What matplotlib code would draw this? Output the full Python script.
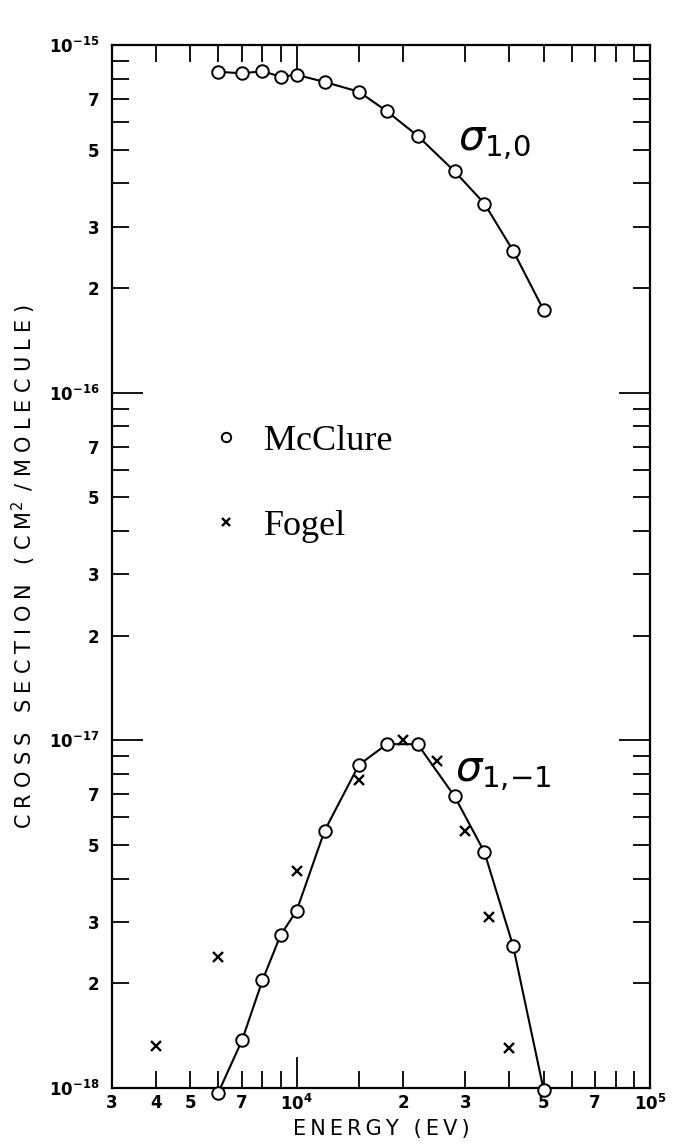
import matplotlib
matplotlib.use("Agg")
import matplotlib.pyplot as plt
from matplotlib.ticker import FixedLocator, FixedFormatter

# energies (eV) of the McClure points
energy = [6e3, 7e3, 8e3, 9e3, 1e4, 1.2e4, 1.5e4, 1.8e4, 2.2e4, 2.8e4, 3.4e4, 4.1e4, 5e4]
# sigma(1,0), units of 1e-16 cm^2
sig10 = [8.38, 8.29, 8.41, 8.11, 8.21, 7.83, 7.34, 6.45, 5.48, 4.33, 3.50, 2.56, 1.73]
# sigma(1,-1), units of 1e-18 cm^2
sig11 = [0.97, 1.37, 2.04, 2.75, 3.24, 5.5, 8.5, 9.75, 9.75, 6.9, 4.77, 2.56, 0.99]

# Fogel points for sigma(1,-1)
fogel_e = [4e3, 6e3, 1e4, 1.5e4, 2e4, 2.5e4, 3e4, 3.5e4, 4e4]
fogel_s = [1.32, 2.38, 4.2, 7.7, 10.0, 8.7, 5.5, 3.1, 1.3]  # 1e-18

xticks_minor = [4e3, 5e3, 6e3, 7e3, 8e3, 9e3, 1.5e4, 2e4, 3e4, 4e4, 5e4, 6e4, 7e4, 8e4, 9e4]
xlabels_minor = ['4', '5', '', '7', '', '', '', '2', '3', '', '5', '', '7', '', '']
xticks_major = [3e3, 1e4, 1e5]
xlabels_major = ['3', r'$\mathbf{10^4}$', r'$\mathbf{10^5}$']

decades = [1e-18, 1e-17, 1e-16, 1e-15]
decade_labels = [r'$\mathbf{10^{-18}}$', r'$\mathbf{10^{-17}}$',
                 r'$\mathbf{10^{-16}}$', r'$\mathbf{10^{-15}}$']


def spaced(s, sep='\u2009\u200a'):
    return sep.join(s)


fig = plt.figure(figsize=(6.87, 11.46), dpi=100)
ax = fig.add_axes([0.163, 0.0506, 0.783, 0.9101])

s10 = [v * 1e-16 for v in sig10]
s11 = [v * 1e-18 for v in sig11]
sf = [v * 1e-18 for v in fogel_s]

ax.plot(energy, s10, color='black', lw=1.5)
ax.plot(energy, s11, color='black', lw=1.5)
ax.plot(energy, s10, ls='none', marker='o', ms=9, mfc='white', mec='black',
        mew=1.4, clip_on=False, zorder=3, label='McClure')
ax.plot(energy, s11, ls='none', marker='o', ms=9, mfc='white', mec='black',
        mew=1.4, clip_on=False, zorder=3)
ax.plot(fogel_e, sf, ls='none', marker='x', ms=7, mec='black', mew=1.7,
        zorder=4, label='Fogel')

ax.set_xscale('log')
ax.set_yscale('log')
ax.set_xlim(3e3, 1e5)
ax.set_ylim(1e-18, 1e-15)

ax.xaxis.set_major_locator(FixedLocator(xticks_major))
ax.xaxis.set_major_formatter(FixedFormatter(xlabels_major))
ax.xaxis.set_minor_locator(FixedLocator(xticks_minor))
ax.xaxis.set_minor_formatter(FixedFormatter(xlabels_minor))

yminor = []
ylab_minor = []
for d in decades[:-1]:
    for m in range(2, 10):
        yminor.append(m * d)
        ylab_minor.append(str(m) if m in (2, 3, 5, 7) else '')
ax.yaxis.set_major_locator(FixedLocator(decades))
ax.yaxis.set_major_formatter(FixedFormatter(decade_labels))
ax.yaxis.set_minor_locator(FixedLocator(yminor))
ax.yaxis.set_minor_formatter(FixedFormatter(ylab_minor))

for which, ln in (('major', 22), ('minor', 12)):
    ax.tick_params(axis='both', which=which, direction='in', length=ln, width=1.3,
                   top=True, right=True, labelsize=12)
    ax.tick_params(axis='x', which=which, pad=4)
    ax.tick_params(axis='y', which=which, pad=9)
for lab in ax.get_xticklabels(which='both') + ax.get_yticklabels(which='both'):
    lab.set_fontweight('bold')

for sp in ax.spines.values():
    sp.set_linewidth(1.6)

ax.set_xlabel(spaced('ENERGY (EV)', '\u2009'), fontsize=15, labelpad=4)
ax.set_ylabel(spaced('CROSS SECTION (CM') + r'$^2$' + '\u2009 ' + spaced('/MOLECULE)'),
              fontsize=15, labelpad=8)

ax.text(0.643, 0.899, r'$\sigma_{1{,}0}$', transform=ax.transAxes, fontsize=30,
        va='baseline', ha='left')
ax.text(0.638, 0.294, r'$\sigma_{1{,}{-}1}$', transform=ax.transAxes, fontsize=30,
        va='baseline', ha='left')

leg = ax.legend(loc='upper left', bbox_to_anchor=(0.131, 0.667), frameon=False,
                markerscale=0.75, handlelength=0.6, handletextpad=0.75,
                labelspacing=1.43, prop={'family': 'Liberation Serif', 'size': 26})

fig.savefig('out.png', dpi=100, facecolor='white')
